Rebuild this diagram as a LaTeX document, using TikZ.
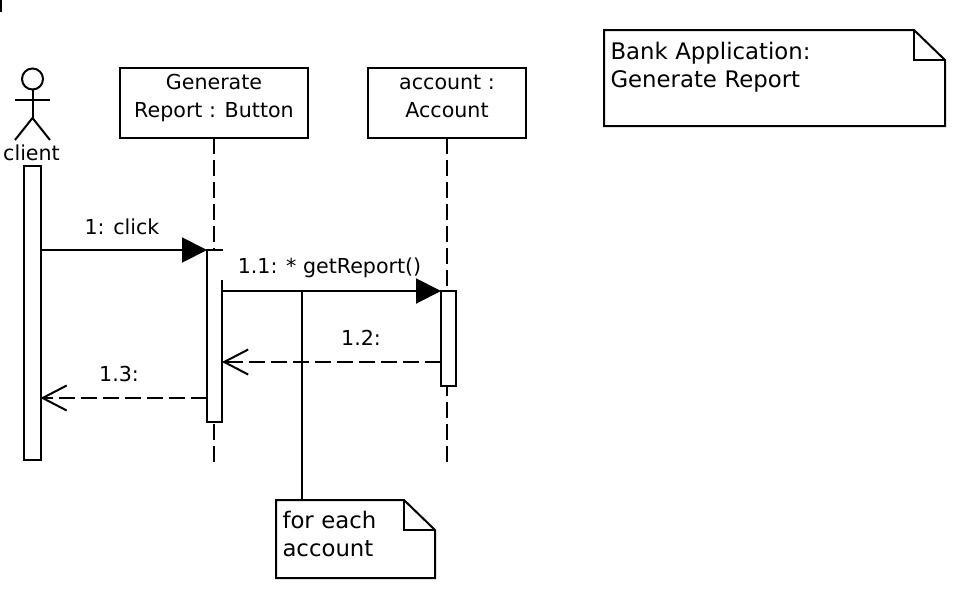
\documentclass[tikz,border=0pt]{standalone}
\usepackage{fontspec}
\setmainfont{DejaVu Sans}
\usetikzlibrary{arrows.meta,calc}
\newcommand{\liftby}[1]{\rule[-#1]{0pt}{0pt}}
\tikzset{
  every node/.style={font=\fontsize{20.6}{28}\selectfont, inner sep=0pt, outer sep=0pt},
  diagline/.style={line width=2pt, line join=miter, color=black},
  objbox/.style={diagline, draw, fill=white, align=center, anchor=north west},
  actbox/.style={diagline, draw, fill=white, anchor=north west},
  notetext/.style={align=left, anchor=north west, font=\fontsize{22.8}{28}\selectfont},
  lifeline/.style={diagline, dash pattern=on 16pt off 6pt},
  syncmsg/.style={diagline, -{Triangle[length=25pt,width=25pt]}},
  replymsg/.style={diagline, dash pattern=on 16pt off 6pt, -{Straight Barb[length=24pt,width=25pt,line width=2pt]}},
}
\begin{document}
\begin{tikzpicture}[x=1pt,y=-1pt]
\useasboundingbox (0,0) rectangle (956,598);
\fill[black] (0,0) rectangle (1.5,12);

% lifelines
\node[objbox, minimum width=188pt, minimum height=70pt] (gen) at (120,68) {Generate\\Report : Button\liftby{14pt}};
\node[objbox, minimum width=158pt, minimum height=70pt] (acc) at (368,68) {account :\\Account\liftby{14pt}};
\coordinate (genend) at (214,462);
\coordinate (accend) at (446.5,462);
\draw[lifeline] (214,138) -- (genend);
\draw[lifeline] (446.5,138) -- (accend);

% actor
\node[diagline, draw, circle, minimum size=21pt] (head) at (32.5,79) {};
\coordinate (hip) at (32.5,118);
\coordinate (armL) at (15,100);
\coordinate (armR) at (50,100);
\coordinate (legL) at (15,140);
\coordinate (legR) at (50,140);
\draw[diagline] (head.south) -- (hip);
\draw[diagline] (armL) -- (armR);
\draw[diagline] (legL) -- (hip) -- (legR);
\node[anchor=base] (client) at (31.5,160) {client};

% activations
\node[actbox, minimum width=16.5pt, minimum height=294pt] (actc) at (24,166) {};
\node[actbox, minimum width=15pt, minimum height=172pt] (actg) at (207,250) {};
\node[actbox, minimum width=15pt, minimum height=95pt] (acta) at (441,291) {};

% message anchors
\coordinate (m1s) at (actc.east |- 0,250);
\coordinate (m1e) at (actg.west |- 0,250);
\coordinate (m2s) at (actg.east |- 0,291);
\coordinate (m2e) at (acta.west |- 0,291);
\coordinate (m3s) at (acta.west |- 0,362);
\coordinate (m3e) at (actg.east |- 0,362);
\coordinate (m4s) at (actg.west |- 0,398);
\coordinate (m4e) at (actc.east |- 0,398);

% label that covers part of the activation edge
\fill[white] (220.9,251) rectangle (421,280);
\node[anchor=base] (l2) at (329.5,273) {1.1: * getReport()};
\node[anchor=base] (l1) at (122,234) {1: click};
\node[anchor=base] (l3) at (361,345) {1.2:};
\node[anchor=base] (l4) at (119,381) {1.3:};

% notes
\node[notetext, minimum width=341pt, minimum height=96pt, text width=328pt, inner xsep=6.5pt] (bank) at (604,30) {Bank Application:\\Generate Report\liftby{26pt}};
\draw[diagline] (bank.north west) -- (914,30) -- (945,60) -- (bank.south east) -- (bank.south west) -- cycle;
\draw[diagline] (914,30) -- (914,60) -- (945,60);

\node[notetext, minimum width=159pt, minimum height=78pt, text width=146pt, inner xsep=6.5pt] (each) at (276,500) {for each\\account\liftby{10pt}};
\draw[diagline] (each.north west) -- (404,500) -- (435,530) -- (each.south east) -- (each.south west) -- cycle;
\draw[diagline] (404,500) -- (404,530) -- (435,530);

% note connector
\coordinate (nt) at (302,291);
\draw[diagline] (nt) -- (nt |- each.north);

% messages
\draw[syncmsg] (m1s) -- (m1e);
\draw[syncmsg] (m2s) -- (m2e);
\draw[replymsg] (m3s) -- (m3e);
\draw[replymsg] (m4s) -- (m4e);
\end{tikzpicture}
\end{document}
